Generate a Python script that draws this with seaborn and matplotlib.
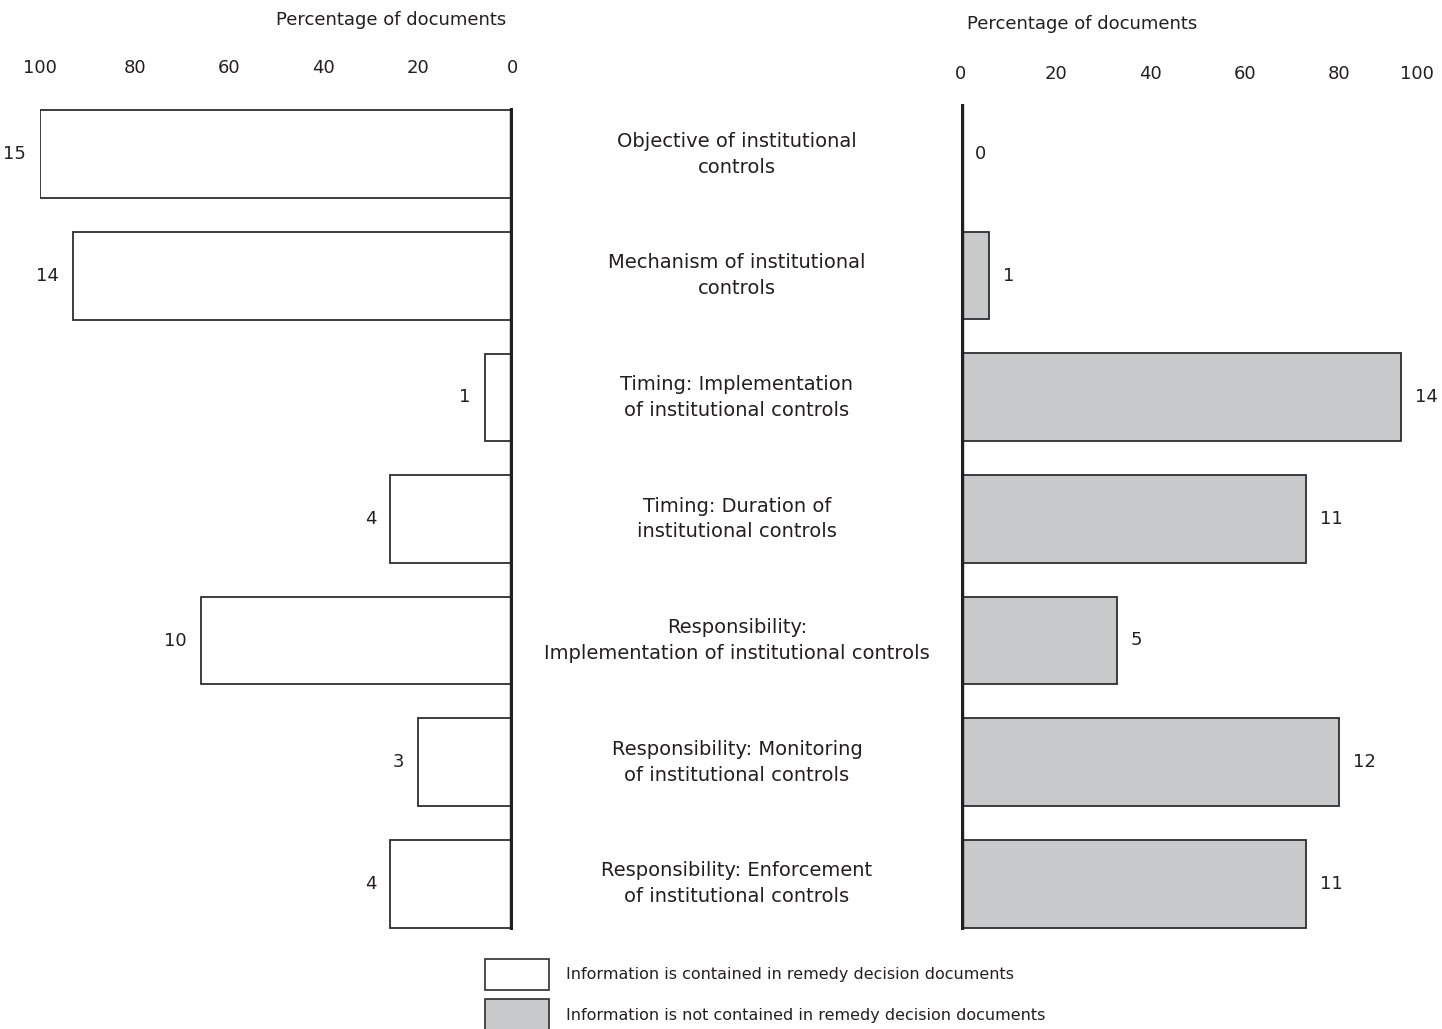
import pandas as pd
import numpy as np
import matplotlib.pyplot as plt
import matplotlib.transforms as mtransforms
from matplotlib.patches import Patch
import seaborn as sns

# Datos
categorias = [
    'Objective of institutional\ncontrols',
    'Mechanism of institutional\ncontrols',
    'Timing: Implementation\nof institutional controls',
    'Timing: Duration of\ninstitutional controls',
    'Responsibility:\nImplementation of institutional controls',
    'Responsibility: Monitoring\nof institutional controls',
    'Responsibility: Enforcement\nof institutional controls',
]
n_contenido = [15, 14, 1, 4, 10, 3, 4]
pct_contenido = [100, 93, 6, 26, 66, 20, 26]
n_no_contenido = [0, 1, 14, 11, 5, 12, 11]
pct_no_contenido = [0, 6, 93, 73, 33, 80, 73]
ticks = [0, 20, 40, 60, 80, 100]

df = pd.DataFrame({'cat': categorias,
                   'pct_si': pct_contenido,
                   'pct_no': pct_no_contenido})

sns.set_style('white')
plt.rcParams['font.family'] = ['DejaVu Sans']
negro = '#231f20'
plt.rcParams['text.color'] = negro
plt.rcParams['xtick.color'] = negro

W, H = 1442, 1029
fig = plt.figure(figsize=(W / 100, H / 100), dpi=100)

gris = '#c8c9ca'
borde = '#2e2e2e'

# Eje izquierdo (invertido)
ax1 = fig.add_axes([40 / W, 1 - 930 / H, 473 / W, 822 / H])
sns.barplot(data=df, x='pct_si', y='cat', color='white', edgecolor=borde,
            linewidth=1.3, width=0.72, orient='h', ax=ax1, saturation=1)
ax1.set_xlim(100, 0)
ax1.set_ylim(6.38, -0.38)

# Eje derecho
ax2 = fig.add_axes([961 / W, 1 - 930 / H, 473 / W, 826 / H])
sns.barplot(data=df, x='pct_no', y='cat', color=gris, edgecolor=borde,
            linewidth=1.3, width=0.72, orient='h', ax=ax2, saturation=1)
ax2.set_xlim(0, 100)
ax2.set_ylim(6.38, -0.41)

for ax, cuentas, pad in [(ax1, n_contenido, 22), (ax2, n_no_contenido, 15)]:
    for s in ax.spines.values():
        s.set_visible(False)
    ax.axvline(0, color=negro, lw=4.6, zorder=5)
    ax.xaxis.tick_top()
    ax.set_xticks(ticks)
    ax.tick_params(axis='x', length=0, pad=pad, labelsize=13, labelcolor=negro)
    ax.set_yticks([])
    ax.set_xlabel('')
    ax.set_ylabel('')
    ax.grid(False)
    ax.bar_label(ax.containers[0], labels=[str(c) for c in cuentas],
                 padding=10, fontsize=13, color=negro)

# el "100" de la derecha no cabe centrado
ax2.get_xticklabels()[-1].set_horizontalalignment('right')

fig.text(391 / W, 1 - 20 / H, 'Percentage of documents', ha='center',
         va='center', fontsize=13)
fig.text(1082 / W, 1 - 24 / H, 'Percentage of documents', ha='center',
         va='center', fontsize=13)

# Etiquetas de categorías en el centro
trans = mtransforms.blended_transform_factory(fig.transFigure, ax1.transData)
for i, c in enumerate(categorias):
    fig.text(737 / W, i, c, transform=trans, ha='center', va='center',
             fontsize=14, linespacing=1.45, multialignment='center')

# Leyenda
handles = [Patch(facecolor='white', edgecolor=borde, linewidth=1.2),
           Patch(facecolor=gris, edgecolor=borde, linewidth=1.2)]
fig.legend(handles, ['Information is contained in remedy decision documents',
                     'Information is not contained in remedy decision documents'],
           loc='upper left', bbox_to_anchor=(485 / W, 1 - 959 / H),
           frameon=False, fontsize=11.5, handlelength=4.0, handleheight=2.6,
           labelspacing=0.6, handletextpad=1.05, borderpad=0, borderaxespad=0)

fig.savefig('out.png', dpi=100)
